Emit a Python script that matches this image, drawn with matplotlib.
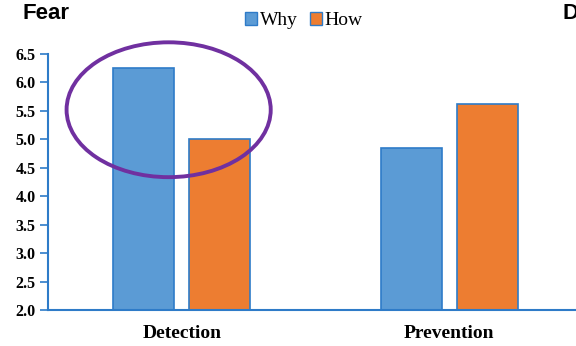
import matplotlib.pyplot as plt
from matplotlib.patches import Ellipse, Patch
import numpy as np

# Mean scores per condition
categories = ['Detection', 'Prevention']
why_vals = [6.25, 4.85]
how_vals = [5.0, 5.62]
yticks = [2.0, 2.5, 3.0, 3.5, 4.0, 4.5, 5.0, 5.5, 6.0, 6.5]

blue = '#5B9BD5'
orange = '#ED7D31'
edge = '#2E7BC8'
purple = '#7030A0'

fig = plt.figure(figsize=(5.76, 3.46), dpi=100)
ax = fig.add_axes([0.0833, 0.104, 0.929, 0.740])

x = np.arange(len(categories))
w = 0.228
off = 0.142
ax.bar(x - off, why_vals, w, bottom=0, color=blue, edgecolor=edge, linewidth=1.2, zorder=2)
ax.bar(x + off, how_vals, w, bottom=0, color=orange, edgecolor=edge, linewidth=1.2, zorder=2)

ax.set_xlim(-0.5, 1.5)
ax.set_ylim(2.0, 6.5)
ax.set_yticks(yticks)
ax.set_yticklabels(['%.1f' % v for v in yticks], family='Liberation Serif',
                   fontweight='bold', fontsize=11.5)
ax.set_xticks(x)
ax.set_xticklabels(categories, family='Liberation Serif', fontweight='bold', fontsize=14)
ax.tick_params(axis='y', length=6, width=1.2, color=edge, pad=3)
ax.tick_params(axis='x', length=0, pad=11)

for s in ['top', 'right']:
    ax.spines[s].set_visible(False)
for s in ['left', 'bottom']:
    ax.spines[s].set_color(edge)
    ax.spines[s].set_linewidth(1.5)

# highlight around the detection pair
ax.add_patch(Ellipse((-0.049, 5.52), 0.763, 2.37, fill=False, edgecolor=purple,
                     linewidth=2.8, zorder=3, clip_on=False))

handles = [Patch(facecolor=blue, edgecolor=edge), Patch(facecolor=orange, edgecolor=edge)]
fig.legend(handles, ['Why', 'How'], loc='center', bbox_to_anchor=(304 / 576, 1 - 20.5 / 346),
           ncol=2, frameon=False, prop={'family': 'Liberation Serif', 'size': 14},
           handlelength=0.62, handleheight=0.62, handletextpad=0.15, columnspacing=0.6,
           borderpad=0)

# panel titles; the second one runs off the right edge
fig.text(23 / 576, 1 - 13.5 / 346, 'Fear', family='Liberation Sans', fontweight='bold',
         fontsize=16, va='center', ha='left')
fig.text(563 / 576, 1 - 13.5 / 346, 'D', family='Liberation Sans', fontweight='bold',
         fontsize=16, va='center', ha='left')

fig.savefig('out.png', dpi=100)
